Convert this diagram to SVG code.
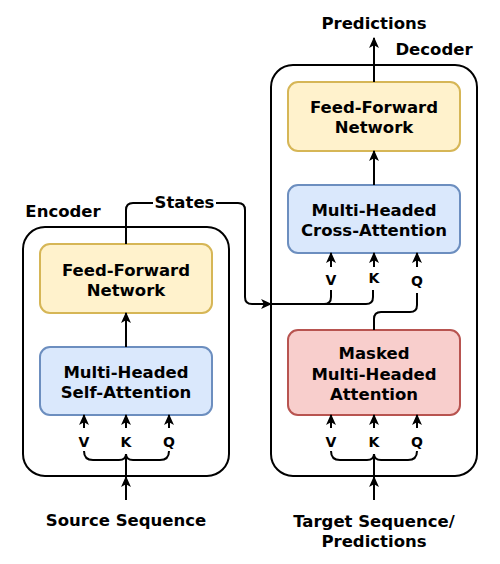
<svg xmlns="http://www.w3.org/2000/svg" width="500" height="564" viewBox="0 0 500 564">
<style>
text{font-family:"DejaVu Sans",Verdana,sans-serif;font-weight:bold;fill:#000;text-anchor:middle}
.t{font-size:16.5px}
.s{font-size:14px}
.cont{fill:#fff;stroke:#000;stroke-width:2}
.ffn{fill:#fff2cc;stroke:#d6b656;stroke-width:2}
.blue{fill:#dae8fc;stroke:#6c8ebf;stroke-width:2}
.red{fill:#f8cecc;stroke:#b85450;stroke-width:2}
.c{fill:none;stroke:#000;stroke-width:2}
.a{marker-end:url(#ah)}
</style>
<defs>
<marker id="ah" viewBox="0 0 10 10" refX="9" refY="5" markerWidth="11" markerHeight="11" markerUnits="userSpaceOnUse" orient="auto">
<path d="M0,0.5 L10,5 L0,9.5 L2.5,5 z" fill="#000"/>
</marker>
</defs>
<g id="encoder">
<rect class="cont" x="23" y="227" width="206" height="249" rx="22"/>
<text class="t" x="63" y="217">Encoder</text>
</g>
<g id="decoder">
<rect class="cont" x="271" y="65" width="206" height="411" rx="22"/>
<text class="t" x="434" y="55">Decoder</text>
</g>
<g id="enc-ffn">
<rect class="ffn" x="40" y="244" width="172" height="69" rx="10"/>
<text class="t" x="126" y="276">Feed-Forward</text>
<text class="t" x="126" y="296">Network</text>
</g>
<g id="enc-attn">
<rect class="blue" x="40" y="347" width="172" height="68" rx="10"/>
<text class="t" x="126" y="378">Multi-Headed</text>
<text class="t" x="126" y="398">Self-Attention</text>
</g>
<g id="dec-ffn">
<rect class="ffn" x="288" y="82" width="172" height="69" rx="10"/>
<text class="t" x="374" y="113">Feed-Forward</text>
<text class="t" x="374" y="133">Network</text>
</g>
<g id="dec-cross">
<rect class="blue" x="288" y="185" width="172" height="68" rx="10"/>
<text class="t" x="374" y="216">Multi-Headed</text>
<text class="t" x="374" y="236">Cross-Attention</text>
</g>
<g id="dec-masked">
<rect class="red" x="288" y="330" width="172" height="85" rx="10"/>
<text class="t" x="374" y="359">Masked</text>
<text class="t" x="374" y="379.5">Multi-Headed</text>
<text class="t" x="374" y="400">Attention</text>
</g>
<g id="labels">
<text class="t" x="374" y="29">Predictions</text>
<text class="t" x="126" y="526">Source Sequence</text>
<text class="t" x="374" y="527">Target Sequence/</text>
<text class="t" x="374" y="547">Predictions</text>
<text class="s" x="84" y="447">V</text>
<text class="s" x="126" y="447">K</text>
<text class="s" x="169" y="447">Q</text>
<text class="s" x="331" y="285">V</text>
<text class="s" x="374" y="283">K</text>
<text class="s" x="417" y="286">Q</text>
<text class="s" x="331" y="447">V</text>
<text class="s" x="374" y="447">K</text>
<text class="s" x="417" y="447">Q</text>
</g>
<g id="connectors">
<path class="c a" d="M126 500 V477"/>
<path class="c" d="M126 477 V454"/>
<path class="c" d="M84 451 Q84 460 93 460 H119 Q126 460 126 454 Q126 460 133 460 H160 Q169 460 169 451"/>
<path class="c a" d="M84 428 V415"/>
<path class="c a" d="M126 428 V415"/>
<path class="c a" d="M169 428 V415"/>
<path class="c a" d="M126 347 V313"/>
<path class="c" d="M126 244 V210 Q126 203 133 203 H153"/>
<text class="t" x="184.5" y="208">States</text>
<path class="c a" d="M216 203 H238 Q245 203 245 210 V297 Q245 304 252 304 H271"/>
<path class="c" d="M271 304 H366 Q373 304 373 297 V290"/>
<path class="c" d="M331 290 V297 Q331 304 324 304"/>
<path class="c a" d="M331 267 V253"/>
<path class="c a" d="M374 267 V253"/>
<path class="c a" d="M417 267 V253"/>
<path class="c" d="M374 330 V319 Q374 312 381 312 H410 Q417 312 417 305 V293"/>
<path class="c a" d="M374 185 V151"/>
<path class="c a" d="M374 82 V38"/>
<path class="c a" d="M374 500 V477"/>
<path class="c" d="M374 477 V454"/>
<path class="c" d="M331 451 Q331 460 340 460 H367 Q374 460 374 454 Q374 460 381 460 H408 Q417 460 417 451"/>
<path class="c a" d="M331 428 V415"/>
<path class="c a" d="M374 428 V415"/>
<path class="c a" d="M417 428 V415"/>
</g>
</svg>
